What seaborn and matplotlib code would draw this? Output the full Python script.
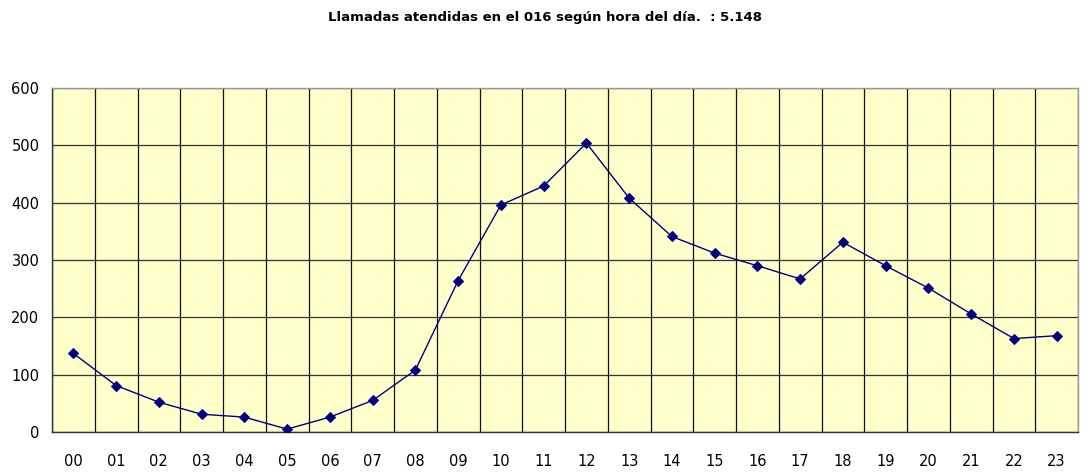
import numpy as np
import pandas as pd
import matplotlib
matplotlib.use("Agg")
import matplotlib.pyplot as plt
import seaborn as sns

# Datos
horas = ["00", "01", "02", "03", "04", "05", "06", "07", "08", "09", "10", "11",
         "12", "13", "14", "15", "16", "17", "18", "19", "20", "21", "22", "23"]
llamadas = [137, 81, 52, 31, 26, 5, 26, 55, 108, 264, 396, 429,
            504, 408, 341, 312, 290, 267, 331, 290, 251, 206, 163, 168]
titulo = "Llamadas atendidas en el 016 según hora del día.  : 5.148"

df = pd.DataFrame({"pos": np.arange(len(horas)), "llamadas": llamadas})

sns.set_style("white")
plt.rcParams["font.family"] = ["DejaVu Sans"]

fig = plt.figure(figsize=(10.9, 4.73), dpi=100)
ax = fig.add_axes([52 / 1090, 41 / 473, 1026 / 1090, 344 / 473])
ax.set_facecolor("#FFFFCC")

sns.lineplot(data=df, x="pos", y="llamadas", ax=ax, color="#000080",
             marker="D", markersize=5.5, markeredgecolor="#000080",
             linewidth=1.0, zorder=3)

ax.set_xlim(-0.5, len(horas) - 0.5)
ax.set_ylim(0, 600)
ax.set_yticks(range(0, 601, 100))
ax.set_xticks(df["pos"])
ax.set_xticklabels(horas)
ax.set_xticks(np.arange(-0.5, len(horas)), minor=True)

# rejilla estilo Excel
ax.grid(False)
ax.grid(axis="y", which="major", color="#333333", linewidth=0.9, zorder=1)
ax.grid(axis="x", which="minor", color="#111111", linewidth=0.9, zorder=1)
ax.tick_params(axis="x", which="major", length=0, pad=16, labelsize=10.5, colors="black")
ax.tick_params(axis="x", which="minor", length=6, width=0.9, color="#333333", direction="out")
ax.tick_params(axis="y", which="major", length=5, width=0.9, color="#333333",
               direction="out", labelsize=10.5, pad=4, labelcolor="black")
ax.set_xlabel("")
ax.set_ylabel("")

for side in ["left", "bottom"]:
    ax.spines[side].set_color("#333333")
    ax.spines[side].set_linewidth(1.0)
for side in ["top", "right"]:
    ax.spines[side].set_color("#999999")
    ax.spines[side].set_linewidth(1.0)

fig.text(0.5, 1 - 17 / 473, titulo, ha="center", va="center",
         fontsize=9.5, fontweight="bold", color="black")

fig.savefig("out.png", dpi=100, facecolor="white")
